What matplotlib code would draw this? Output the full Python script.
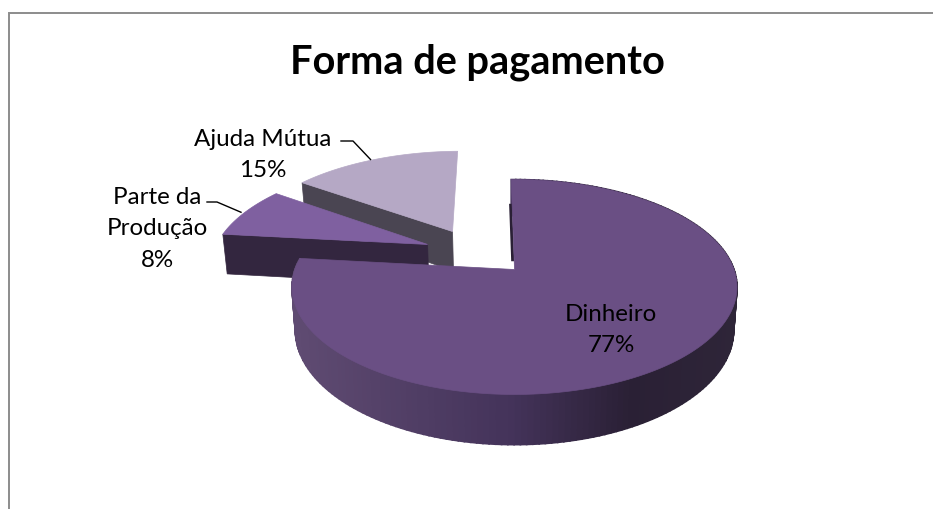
"""Exploded 3D pie "Forma de pagamento" drawn by hand on a pixel-sized axes."""
import numpy as np, matplotlib
matplotlib.use("Agg")
import matplotlib.pyplot as plt
from matplotlib.colors import to_rgb

# === Data ===
LABELS = ["Dinheiro", "Parte da\nProdução", "Ajuda Mútua"]
VALUES = [77, 8, 15]
DRAW_ORDER = ["Ajuda Mútua", "Parte da\nProdução", "Dinheiro"]

plt.rcParams.update({"font.family": ["Lato", "DejaVu Sans"]})

# perspective of the ground plane, in pixels
CX, CY = 514.5, 270.5
RX, RY = 219.5, 104.6
K = 0.163
DEPTH = 42
START = -1.0

# slice look: explode offset in ground units, top colour, wall colour
STYLE = {
    "Dinheiro": dict(off=(0.0, 0.0), top="#6a4f84", wall="#2a2035"),
    "Parte da\nProdução": dict(off=(-0.412, 0.249), top="#7f60a0", wall="#33263f"),
    "Ajuda Mútua": dict(off=(-0.30, 0.386), top="#b5a8c5", wall="#4a4552"),
}
SIDE_STOPS = [(295, "#5f4b72"), (510, "#44335a"), (630, "#2a2035"), (735, "#2e2538")]


def project(X, Y):
    s = 1.0 / (1 + K * np.asarray(Y))
    return CX + RX * np.asarray(X) * s, CY - RY * np.asarray(Y) * s


def extrude(X, Y):
    x, y = project(X, Y)
    s = 1.0 / (1 + K * np.asarray(Y))
    return CX + (x - CX) * 0.985, y + DEPTH * s


def rim(t, off):
    r = np.radians(t)
    return off[0] + np.sin(r), off[1] + np.cos(r)


def side_colour(x):
    xs = [p[0] for p in SIDE_STOPS]
    rgb = np.array([to_rgb(p[1]) for p in SIDE_STOPS])
    return tuple(np.interp(x, xs, rgb[:, i]) for i in range(3))


fig = plt.figure(figsize=(9.33, 5.10), dpi=100)
ax = fig.add_axes([0, 0, 1, 1])
ax.set_xlim(0, 933)
ax.set_ylim(510, 0)
ax.axis("off")

# chart frame, cropped at the bottom and right
ax.plot([8.5, 8.5, 933], [510, 13.5, 13.5], color="#8c8c8c", lw=1.4, solid_joinstyle="miter")

# slice angles, clockwise from 12 o'clock
angles = {}
a = START
for lab, v in zip(LABELS, VALUES):
    angles[lab] = (a, a + 360.0 * v / sum(VALUES))
    a += 360.0 * v / sum(VALUES)

# drawn back to front
for lab in DRAW_ORDER:
    st = STYLE[lab]
    off = st["off"]
    t0, t1 = angles[lab]
    ts = np.linspace(t0, t1, 200)
    X, Y = rim(ts, off)
    if lab == "Dinheiro":
        # curved outer side with shading across the width
        for i in range(len(ts) - 1):
            xa, ya = project(X[i:i + 2], Y[i:i + 2])
            xb, yb = extrude(X[i:i + 2], Y[i:i + 2])
            c = side_colour(xa.mean())
            ax.fill([xa[0], xa[1], xb[1], xb[0]], [ya[0], ya[1], yb[1], yb[0]], color=c, lw=1.2)
        # thin sliver of the inner wall next to the gap
        ex = off[0] + np.array([0.08, 0.70]) * np.sin(np.radians(t0))
        ey = off[1] + np.array([0.08, 0.70]) * np.cos(np.radians(t0))
        sx, sy = project(ex, ey)
        ax.fill([sx[0], sx[1], sx[1] - 3, sx[0] - 3], [sy[0], sy[1], sy[1], sy[0]], color=st["wall"], lw=0)
    else:
        # flat cut wall facing the viewer
        ex = off[0] + np.array([0, 1]) * np.sin(np.radians(t0))
        ey = off[1] + np.array([0, 1]) * np.cos(np.radians(t0))
        xa, ya = project(ex, ey)
        xb, yb = extrude(ex, ey)
        ax.fill([xa[0], xa[1], xb[1], xb[0]], [ya[0], ya[1], yb[1], yb[0]], color=st["wall"], lw=0.5)
    # top face
    px, py = project(np.r_[off[0], X], np.r_[off[1], Y])
    ax.fill(px, py, color=st["top"], lw=0.5)

# labels and leader lines
vals = dict(zip(LABELS, VALUES))
TEXT_POS = {"Dinheiro": (611, 330), "Ajuda Mútua": (263, 155), "Parte da\nProdução": (157, 229)}
LEADER_KNEE = {"Ajuda Mútua": (341, 353, 142), "Parte da\nProdução": (207, 217, 203)}
for lab in LABELS:
    x, y = TEXT_POS[lab]
    ax.text(x, y, f"{lab}\n{vals[lab]}%", ha="center", va="center", fontsize=17.4, color="black", linespacing=1.6)
    if lab in LEADER_KNEE:
        x0, x1, yk = LEADER_KNEE[lab]
        t0, t1 = angles[lab]
        mx, my = project(*rim((t0 + t1) / 2, STYLE[lab]["off"]))
        ax.plot([x0, x1, mx - 4], [yk, yk, my], color="black", lw=1.0)

ax.text(477, 62, "Forma de pagamento", ha="center", va="center", fontsize=28.6, fontweight="bold", color="black")

fig.savefig("out.png", dpi=100)
plt.close()
